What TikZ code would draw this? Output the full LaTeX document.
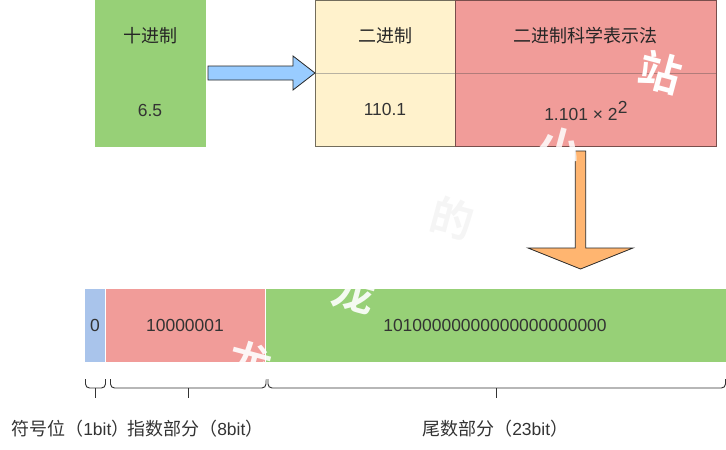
\documentclass[tikz,border=0pt]{standalone}
\usepackage{fontspec}
\setmainfont{Liberation Sans}
\newfontfamily\cjk{Noto Sans CJK SC}
\newfontfamily\cjkb{Noto Sans CJK SC Bold}
\usetikzlibrary{calc}
\definecolor{cgreen}{HTML}{97D077}
\definecolor{ccream}{HTML}{FFF2CC}
\definecolor{cred}{HTML}{F19C99}
\definecolor{cblue}{HTML}{A9C4EB}
\definecolor{carrowb}{HTML}{99CCFF}
\definecolor{carrowo}{HTML}{FFB570}
\definecolor{ctxt}{HTML}{333333}
\tikzset{
  x=0.75pt,y=-0.75pt,
  cell/.style={inner sep=0pt,outer sep=0pt,anchor=north west},
  zh/.style={font=\cjk\fontsize{13.5}{14}\selectfont,text=black!85,inner sep=0pt},
  num/.style={font=\fontsize{13.1}{14}\selectfont,text=ctxt,inner sep=0pt},
  lab/.style={font=\fontsize{13.1}{14}\selectfont,text=ctxt,inner sep=0pt},
  blockarrow/.style={draw=black!85,line width=0.6pt,line join=miter},
  bracket/.style={draw=ctxt,line width=0.7pt,rounded corners=3pt},
  bracetip/.style={draw=ctxt,line width=0.7pt},
  wm/.style={font=\cjkb\fontsize{32}{32}\selectfont,inner sep=0pt},
}
\newcommand{\mybrace}[4]{% name, x1, x2, xm
  \coordinate (#1L) at (#2,379);
  \coordinate (#1R) at (#3,379);
  \coordinate (#1M) at (#4,388);
  \coordinate (#1T) at (#4,398);
  \draw[bracket] (#1L) |- (#1M) -| (#1R);
  \draw[bracetip] (#1M) -- (#1T);
}
\newcommand{\zhtext}[1]{{\cjk\fontsize{13.5}{14}\selectfont #1}}
\begin{document}
\begin{tikzpicture}
\useasboundingbox (0,0) rectangle (726,450);
% decimal box
\node[cell,fill=cgreen,minimum width=83.25pt,minimum height=110.25pt] (dec) at (95,0) {};
\node[zh] (dect) at (150,36) {十进制};
\node[num] (decv) at (150,110) {6.5};
% table
\node[cell,fill=ccream,minimum width=105pt,minimum height=109.5pt] (bin) at (315,0) {};
\node[cell,fill=cred,minimum width=195.75pt,minimum height=109.5pt] (sci) at (455,0) {};
\draw[color=ccream!60!black!70,line width=0.6pt] (315,73) -- (455,73);
\draw[color=cred!70!black!90,line width=0.6pt] (455,73) -- (716,73);
\draw[color=ccream!45!black,line width=0.75pt] (455,0.4) -- (315,0.4) -- (315,146) -- (455,146);
\draw[color=cred!50!black,line width=0.75pt] (455,0.4) -- (716,0.4) -- (716,146) -- (455,146) -- cycle;
\node[zh] (bint) at (385,36) {二进制};
\node[num] (binv) at (385,109) {110.1};
\node[zh] (scit) at (585,36) {二进制科学表示法};
\node[num,anchor=base west] (sciv) at (544,120) {1.101 × 2};
\node[num,anchor=base west] (sciexp) at (617.5,113) {2};
% arrows
\coordinate (a1) at (208,73);
\coordinate (a2) at (580.5,151);
\draw[blockarrow,fill=carrowb,shift={(a1)}] (0,-7) -- (85,-7) -- (85,-17) -- (107,0) -- (85,17) -- (85,7) -- (0,7) -- cycle;
\draw[blockarrow,fill=carrowo,shift={(a2)}] (-5.2,0) -- (5.2,0) -- (5.2,97) -- (52.5,97) -- (0,118) -- (-52.5,97) -- (-5.2,97) -- cycle;
% bar
\node[cell,fill=cblue,minimum width=15pt,minimum height=54.75pt] (sign) at (85,289) {};
\node[cell,fill=cred,minimum width=120pt,minimum height=54.75pt] (expo) at (105,289) {};
\node[cell,fill=cgreen,minimum width=345.75pt,minimum height=54.75pt] (mant) at (265,289) {};
\draw[white,line width=0.4pt] (105,289) -- (105,362) (265,289) -- (265,362);
\node[num] (signv) at (95,325) {0};
\node[num] (expov) at (185,325) {10000001};
\node[num] (mantv) at (495,325) {10100000000000000000000};
% braces
\mybrace{b1}{85.5}{105.5}{95.5}
\mybrace{b2}{110.5}{266}{188}
\mybrace{b3}{268}{725.5}{496.5}
% labels
\node[lab,anchor=base west] (l1) at (11,435) {\zhtext{符号位（}1bit\zhtext{）}};
\node[lab,anchor=base west] (l2) at (127,435) {\zhtext{指数部分（}8bit\zhtext{）}};
\node[lab,anchor=base west] (l3) at (422,435) {\zhtext{尾数部分（}23bit\zhtext{）}};
% watermark
\node[wm,text=white,rotate=-15] (w1) at (660,72) {站};
\node[wm,text=white,opacity=0.85,rotate=-15] (w2) at (559,148) {小};
\node[wm,text=black!4,rotate=-15] (w3) at (452,218) {的};
\node[wm,text=white,opacity=0.9,rotate=-15] (w4) at (354,292) {龙};
\node[wm,text=white,opacity=0.9,rotate=-15] (w5) at (250,362) {龙};
\end{tikzpicture}
\end{document}
